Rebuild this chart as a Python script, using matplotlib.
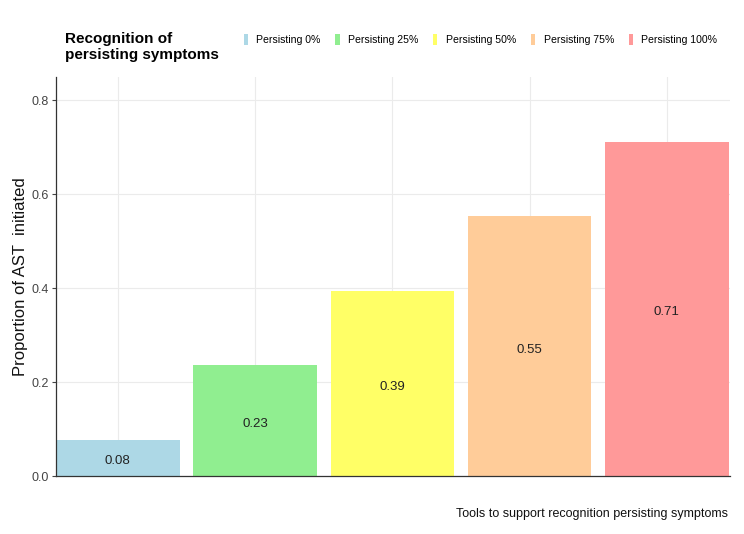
import matplotlib.pyplot as plt
import numpy as np
from matplotlib.patches import Patch

plt.rcParams['font.family'] = ['Liberation Sans', 'DejaVu Sans']

categories = ['Persisting 0%', 'Persisting 25%', 'Persisting 50%', 'Persisting 75%', 'Persisting 100%']
values = [0.077, 0.236, 0.394, 0.553, 0.711]
labels = ['0.08', '0.23', '0.39', '0.55', '0.71']
colors = ['#ADD8E6', '#90EE90', '#FFFF66', '#FFCC99', '#FF9999']

fig = plt.figure(figsize=(7.44, 5.34), dpi=100)
ax = fig.add_axes([0.0753, 0.1086, 0.906, 0.748])

x = np.arange(1, len(categories) + 1)
ax.bar(x, values, width=0.9, color=colors, zorder=2)
for xi, v, lab in zip(x, values, labels):
    ax.annotate(lab, (xi, v / 2), xytext=(0, -2.5), textcoords='offset points',
                ha='center', va='center', fontsize=9.5, color='#222222', zorder=3)

ax.set_xlim(0.55, 5.46)
ax.set_ylim(0, 0.85)
ax.set_yticks([0.0, 0.2, 0.4, 0.6, 0.8])
ax.set_yticklabels(['0.0', '0.2', '0.4', '0.6', '0.8'])
ax.set_xticks(x)
ax.set_xticklabels([])
ax.tick_params(axis='x', length=0)
ax.tick_params(axis='y', labelsize=9, colors='#444444', length=3, width=0.8, pad=2)
ax.grid(True, color='#EBEBEB', linewidth=0.8, zorder=0)
ax.set_axisbelow(True)
for s in ['top', 'right']:
    ax.spines[s].set_visible(False)
for s in ['left', 'bottom']:
    ax.spines[s].set_color('#333333')
    ax.spines[s].set_linewidth(0.9)

ax.set_ylabel('Proportion of AST  initiated', fontsize=12, color='#111111', labelpad=3)
fig.text(0.979, 0.026, 'Tools to support recognition persisting symptoms', ha='right', va='bottom',
         fontsize=9, color='#111111')

fig.text(0.087, 0.912, 'Recognition of\npersisting symptoms', ha='left', va='center',
         fontsize=11, fontweight='bold', linespacing=1.25)
handles = [Patch(facecolor=c, edgecolor='none') for c in colors]
fig.legend(handles, categories, loc='center right', bbox_to_anchor=(0.970, 0.926), ncol=5,
           frameon=False, fontsize=7.6, handlelength=0.4, handleheight=1.2,
           handletextpad=0.8, columnspacing=1.4, borderaxespad=0)

fig.savefig('out.png', dpi=100)
